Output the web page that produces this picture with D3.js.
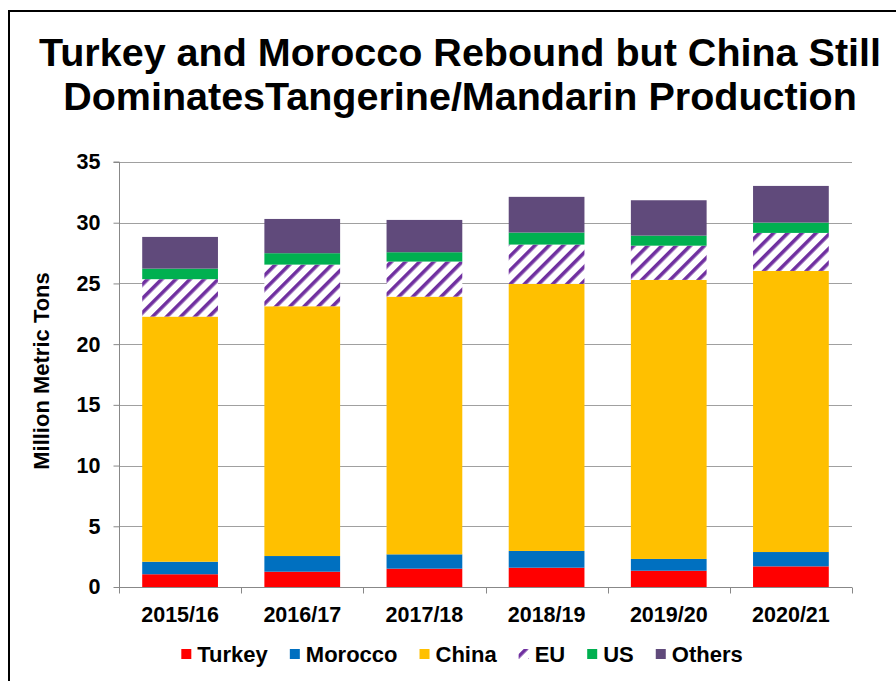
<!DOCTYPE html>
<html>
<head>
<meta charset="utf-8">
<script src="https://cdn.jsdelivr.net/npm/d3@7"></script>
<style>
    html, body { margin: 0; padding: 0; background: #fff; }
    svg { display: block; font-family: Arial, "Liberation Sans", sans-serif; }
</style>
</head>
<body>
<div id="chart"></div>
<script>
// data (million metric tons)
const years = ['2015/16', '2016/17', '2017/18', '2018/19', '2019/20', '2020/21'];
const turkey = [1.05, 1.26, 1.51, 1.59, 1.34, 1.70];
const morocco = [1.03, 1.29, 1.18, 1.38, 0.97, 1.18];
const china = [20.19, 20.57, 21.22, 21.99, 22.98, 23.15];
const eu = [3.08, 3.43, 2.89, 3.24, 2.82, 3.13];
const us = [0.87, 0.94, 0.77, 0.99, 0.83, 0.85];
const others = [2.61, 2.82, 2.66, 2.94, 2.91, 3.02];
const seriesNames = ['Turkey', 'Morocco', 'China', 'EU', 'US', 'Others'];
const yTicks = [0, 5, 10, 15, 20, 25, 30, 35];

const width = 896;
const height = 681;
const plot = { left: 119, right: 852, top: 162, bottom: 587 };

const seriesValues = [turkey, morocco, china, eu, us, others];
const fills = {
    Turkey: '#ff0000',
    Morocco: '#0070c0',
    China: '#ffc000',
    EU: 'url(#euHatch)',
    US: '#00b050',
    Others: '#604a7b'
};

const rows = years.map((yr, i) => {
    const row = { year: yr };
    seriesNames.forEach((s, j) => (row[s] = seriesValues[j][i]));
    return row;
});
const stacked = d3.stack().keys(seriesNames)(rows);

const svg = d3
    .select('#chart')
    .append('svg')
    .attr('width', width)
    .attr('height', height);

svg.append('rect').attr('width', width).attr('height', height).attr('fill', '#fff');

// hatch for EU
const defs = svg.append('defs');
const pat = defs
    .append('pattern')
    .attr('id', 'euHatch')
    .attr('patternUnits', 'userSpaceOnUse')
    .attr('width', 10)
    .attr('height', 10)
    .attr('patternTransform', 'rotate(45)');
pat.append('rect').attr('width', 10).attr('height', 10).attr('fill', '#fff');
pat.append('rect').attr('width', 3.6).attr('height', 10).attr('fill', '#7030a0');

// outer frame (right and bottom fall outside the view)
svg.append('rect')
    .attr('x', 9)
    .attr('y', 11)
    .attr('width', 900)
    .attr('height', 700)
    .attr('fill', 'none')
    .attr('stroke', '#000')
    .attr('stroke-width', 2);

// title
const title = svg
    .append('text')
    .attr('text-anchor', 'middle')
    .attr('font-size', 39.5)
    .attr('font-weight', 'bold')
    .attr('fill', '#000');
title.append('tspan').attr('x', 460).attr('y', 66).text('Turkey and Morocco Rebound but China Still');
title.append('tspan').attr('x', 460).attr('y', 110).text('DominatesTangerine/Mandarin Production');

const x = d3
    .scaleBand()
    .domain(years)
    .range([plot.left, plot.right])
    .paddingInner(0.38)
    .paddingOuter(0.19);

const y = d3.scaleLinear().domain([0, 35]).range([plot.bottom, plot.top]);

// gridlines
svg.append('g')
    .selectAll('line')
    .data(yTicks.filter(t => t > 0))
    .join('line')
    .attr('x1', plot.left)
    .attr('x2', plot.right)
    .attr('y1', d => Math.round(y(d)) + 0.5)
    .attr('y2', d => Math.round(y(d)) + 0.5)
    .attr('stroke', '#a0a0a0')
    .attr('stroke-width', 1);

// bars
svg.append('g')
    .selectAll('g')
    .data(stacked)
    .join('g')
    .attr('fill', d => fills[d.key])
    .selectAll('rect')
    .data(d => d)
    .join('rect')
    .attr('x', d => x(d.data.year))
    .attr('width', x.bandwidth())
    .attr('y', d => y(d[1]))
    .attr('height', d => y(d[0]) - y(d[1]));

// y axis
const yAxis = svg
    .append('g')
    .attr('transform', `translate(${plot.left + 0.5},0)`)
    .call(d3.axisLeft(y).tickValues(yTicks).tickSize(6).tickPadding(13));
yAxis.selectAll('path, line').attr('stroke', '#888');
yAxis.select('.domain').attr('d', `M-6,${y(35)}H0V${y(0)}`);
yAxis.selectAll('text')
    .attr('font-size', 21.5)
    .attr('font-weight', 'bold')
    .attr('font-family', 'Arial, "Liberation Sans", sans-serif')
    .attr('fill', '#000');

// x axis with ticks at category boundaries
const xAxis = svg.append('g').attr('transform', `translate(0,${plot.bottom + 0.5})`);
xAxis.append('line')
    .attr('x1', plot.left)
    .attr('x2', plot.right)
    .attr('stroke', '#888');
const step = x.step();
xAxis.selectAll('.bound')
    .data(d3.range(years.length + 1))
    .join('line')
    .attr('class', 'bound')
    .attr('x1', i => Math.round(plot.left + i * step) + 0.5)
    .attr('x2', i => Math.round(plot.left + i * step) + 0.5)
    .attr('y1', 0)
    .attr('y2', 6)
    .attr('stroke', '#888');
xAxis.selectAll('.lbl')
    .data(years)
    .join('text')
    .attr('class', 'lbl')
    .attr('x', d => x(d) + x.bandwidth() / 2)
    .attr('y', 34)
    .attr('text-anchor', 'middle')
    .attr('font-size', 21.5)
    .attr('font-weight', 'bold')
    .text(d => d);

// y title
svg.append('text')
    .attr('transform', 'translate(49,371) rotate(-90)')
    .attr('text-anchor', 'middle')
    .attr('font-size', 22)
    .attr('font-weight', 'bold')
    .text('Million Metric Tons');

// legend
const legend = svg.append('g');
const items = legend
    .selectAll('g')
    .data(seriesNames)
    .join('g');
items.append('rect')
    .attr('width', 10)
    .attr('height', 10)
    .attr('y', -5)
    .attr('fill', d => fills[d]);
items.append('text')
    .attr('x', 16)
    .attr('y', 7.5)
    .attr('font-size', 22)
    .attr('font-weight', 'bold')
    .text(d => d);
let cursor = 0;
const offsets = [];
items.each(function () {
    offsets.push(cursor);
    const w = 16 + this.querySelector('text').getComputedTextLength();
    cursor += w + 22;
});
const total = cursor - 22;
const legendLeft = 462 - total / 2;
items.attr('transform', (d, i) => `translate(${legendLeft + offsets[i]},654)`);
</script>
</body>
</html>
